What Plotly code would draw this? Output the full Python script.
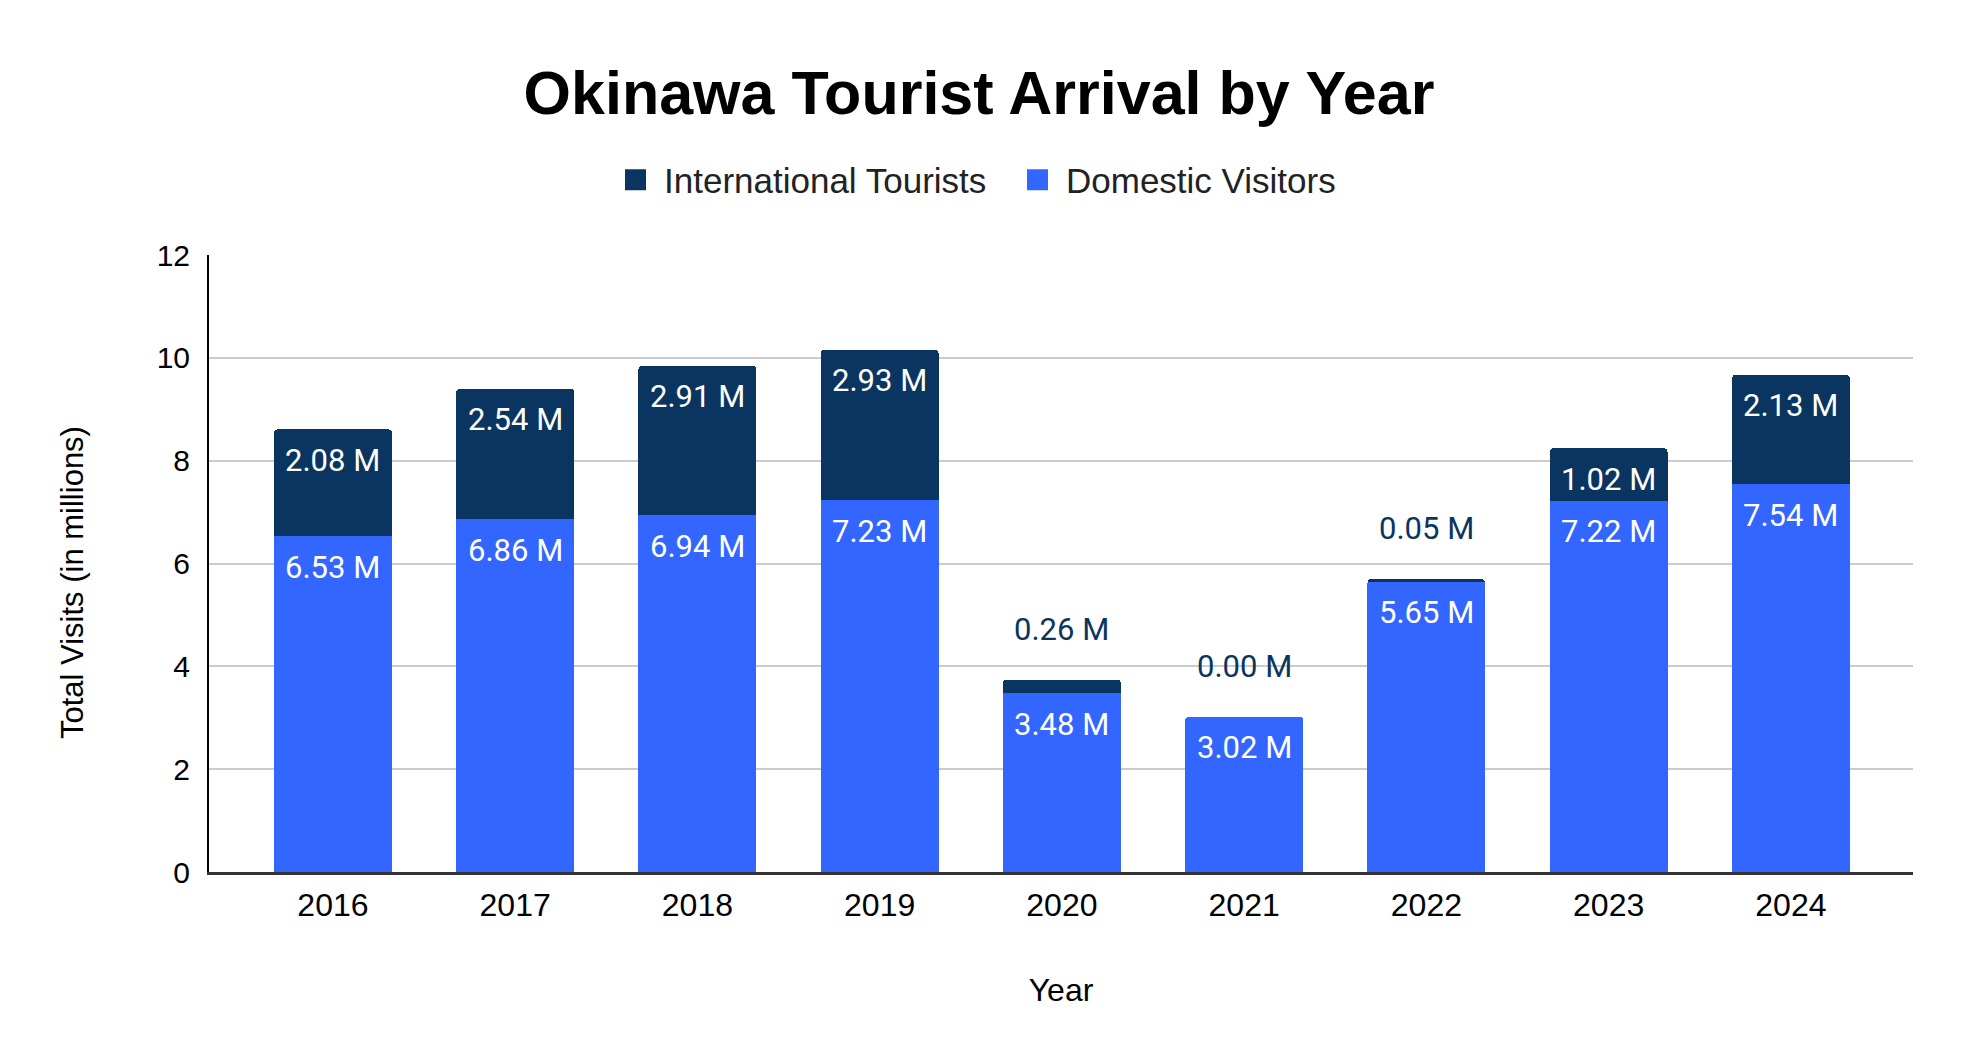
import plotly.graph_objects as go

# Okinawa tourist arrivals, millions of visits
years = ["2016", "2017", "2018", "2019", "2020", "2021", "2022", "2023", "2024"]
domestic = [6.53, 6.86, 6.94, 7.23, 3.48, 3.02, 5.65, 7.22, 7.54]
international = [2.08, 2.54, 2.91, 2.93, 0.26, 0.00, 0.05, 1.02, 2.13]
y_ticks = [0, 2, 4, 6, 8, 10, 12]

NAVY = "#0b3561"
BLUE = "#3366ff"
LABEL_FONT = "Roboto"
AXIS_FONT = "Liberation Sans, Arial, sans-serif"

# page body has an 8px margin, so the figure is drawn 8px smaller
W, H = 1958, 1056

fig = go.Figure()

# stacked bars, legend comes from the dummy traces below
fig.add_trace(go.Bar(x=years, y=domestic, name="Domestic Visitors",
                     marker=dict(color=BLUE, line=dict(width=0)),
                     showlegend=False, hoverinfo="y"))
fig.add_trace(go.Bar(x=years, y=international, name="International Tourists",
                     marker=dict(color=NAVY, line=dict(width=0), cornerradius=4),
                     showlegend=False, hoverinfo="y"))

# legend entries with bigger squares than the bar legend symbol
for name, col in [("Domestic Visitors", BLUE), ("International Tourists", NAVY)]:
    fig.add_trace(go.Scatter(x=[None], y=[None], mode="markers", name=name,
                             marker=dict(symbol="square", size=16, color=col,
                                         line=dict(color=col, width=5))))

# value labels: inside near the top of each segment, small ones above the stack
for k, (d, i) in enumerate(zip(domestic, international)):
    fig.add_annotation(x=k, y=d, xref="x", yref="y", text=f"{d:.2f} M",
                       showarrow=False, yanchor="middle", yshift=-31,
                       font=dict(family=LABEL_FONT, size=31, color="white"))
    if i >= 0.5:
        fig.add_annotation(x=k, y=d + i, xref="x", yref="y", text=f"{i:.2f} M",
                           showarrow=False, yanchor="middle", yshift=-31,
                           font=dict(family=LABEL_FONT, size=31, color="white"))
    else:
        fig.add_annotation(x=k, y=d + i, xref="x", yref="y", text=f"{i:.2f} M",
                           showarrow=False, yanchor="middle", yshift=50,
                           font=dict(family=LABEL_FONT, size=31, color=NAVY))

# y axis title sits a bit below the middle of the plot in the original
fig.add_annotation(x=-0.0804, y=0.47, xref="paper", yref="paper",
                   text="Total Visits (in millions)", textangle=-90,
                   showarrow=False, xanchor="center", yanchor="middle",
                   font=dict(family=AXIS_FONT, size=31, color="black"))

fig.update_layout(
    width=W, height=H,
    barmode="stack", bargap=0.353,
    paper_bgcolor="white", plot_bgcolor="white",
    margin=dict(l=201, r=53, t=247, b=192, autoexpand=False),
    title=dict(text="<b>Okinawa Tourist Arrival by Year</b>",
               x=971 / W, xref="container", xanchor="center",
               y=1 - 85 / H, yref="container", yanchor="middle",
               font=dict(family=AXIS_FONT, size=61, color="black")),
    legend=dict(orientation="h", traceorder="reversed",
                itemwidth=47, entrywidth=340,
                x=599 / W, xref="container", xanchor="left",
                y=1 - 172 / H, yref="container", yanchor="middle",
                font=dict(family=AXIS_FONT, size=35, color="#222222")),
    xaxis=dict(type="category", range=[-0.68, 8.67], automargin=False,
               showline=True, linecolor="#333333", linewidth=2.5,
               showgrid=False, ticks="", ticklabelstandoff=3,
               tickfont=dict(family=AXIS_FONT, size=32, color="black"),
               title=dict(text="Year", standoff=57,
                          font=dict(family=AXIS_FONT, size=32, color="black"))),
    yaxis=dict(range=[0, 12], tickvals=y_ticks, automargin=False,
               showline=True, linecolor="black", linewidth=2,
               showgrid=True, gridcolor="#cccccc", gridwidth=1.5,
               zeroline=False, ticks="", ticklabelstandoff=11,
               tickfont=dict(family=AXIS_FONT, size=30, color="black")),
)

fig.write_html("out.html")
